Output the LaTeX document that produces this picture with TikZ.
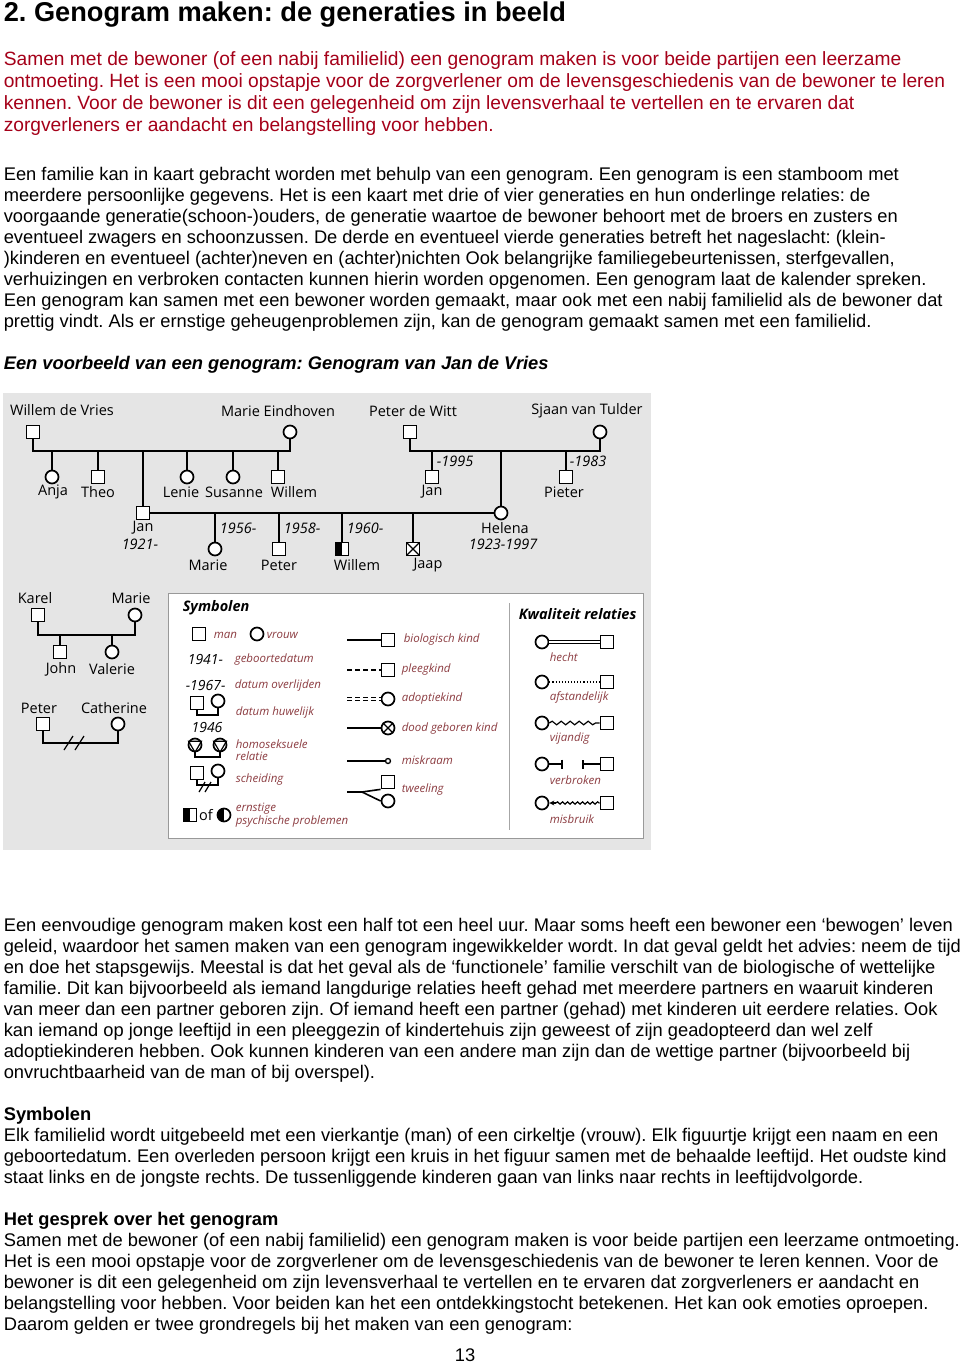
\documentclass[tikz,border=0pt]{standalone}
\usepackage{fontspec}
\setmainfont{Liberation Sans}
\newfontfamily\genofont{Open Sans}
\usepackage{xcolor}
\usetikzlibrary{arrows.meta, positioning, decorations.pathmorphing}
\definecolor{introred}{RGB}{165,0,25}
\definecolor{panelgrey}{RGB}{229,229,229}
\definecolor{legendred}{RGB}{140,60,65}
\def\bodysize{\fontsize{18.3}{21}\selectfont}

\begin{document}
\frenchspacing
\begin{tikzpicture}[x=1pt,y=-1pt,line width=1.6pt]
    \tikzstyle{txt}=[anchor=base west, inner sep=0pt, font=\bodysize]
    \tikzstyle{para}=[anchor=north west, inner sep=0pt, align=left, font=\bodysize]
    \tikzstyle{man}=[rectangle, draw, fill=white, minimum size=13pt, inner sep=0pt, line width=1.7pt]
    \tikzstyle{woman}=[circle, draw, fill=white, minimum size=13pt, inner sep=0pt, line width=1.7pt]
    \tikzstyle{lbl}=[inner sep=0pt, font=\genofont\fontsize{14.5}{16}\selectfont]
    \tikzstyle{yr}=[inner sep=0pt, font=\genofont\itshape\fontsize{14.5}{16}\selectfont]
    \tikzstyle{leg}=[anchor=west, inner sep=0pt, align=left, text=legendred, font=\genofont\itshape\fontsize{11.5}{12.5}\selectfont]
    \tikzstyle{legyr}=[anchor=west, inner sep=0pt, font=\genofont\itshape\fontsize{14}{15}\selectfont]
    \tikzstyle{legtitle}=[anchor=west, inner sep=0pt, font=\genofont\bfseries\itshape\fontsize{14.5}{16}\selectfont]
    \tikzstyle{half}=[path picture={\fill[black] (path picture bounding box.south west) rectangle (path picture bounding box.north);}]
    \tikzstyle{crossed}=[path picture={\draw[line width=1.2pt] (path picture bounding box.south west) -- (path picture bounding box.north east) (path picture bounding box.north west) -- (path picture bounding box.south east);}]

    \path[use as bounding box, fill=white] (0,0) rectangle (960,1364);

    % text of the page
    \node[txt, font=\bfseries\fontsize{27.2}{30}\selectfont] (title) at (3,21.5) {2. Genogram maken: de generaties in beeld};
    \node[para, text=introred, font=\fontsize{19.2}{22}\selectfont] (intro) at (3,49.6) {\strut Samen met de bewoner (of een nabij familielid) een genogram maken is voor beide partijen een leerzame\\
        ontmoeting. Het is een mooi opstapje voor de zorgverlener om de levensgeschiedenis van de bewoner te leren\\
        kennen. Voor de bewoner is dit een gelegenheid om zijn levensverhaal te vertellen en te ervaren dat\\
        zorgverleners er aandacht en belangstelling voor hebben.};
    \node[para] (familie) at (3,165.3) {\strut Een familie kan in kaart gebracht worden met behulp van een genogram. Een genogram is een stamboom met\\
        meerdere persoonlijke gegevens. Het is een kaart met drie of vier generaties en hun onderlinge relaties: de\\
        voorgaande generatie(schoon-)ouders, de generatie waartoe de bewoner behoort met de broers en zusters en\\
        eventueel zwagers en schoonzussen. De derde en eventueel vierde generaties betreft het nageslacht: (klein-\\
        )kinderen en eventueel (achter)neven en (achter)nichten Ook belangrijke familiegebeurtenissen, sterfgevallen,\\
        verhuizingen en verbroken contacten kunnen hierin worden opgenomen. Een genogram laat de kalender spreken.\\
        Een genogram kan samen met een bewoner worden gemaakt, maar ook met een nabij familielid als de bewoner dat\\
        prettig vindt. Als er ernstige geheugenproblemen zijn, kan de genogram gemaakt samen met een familielid.};
    \node[txt, font=\bfseries\itshape\bodysize] (voorbeeld) at (3,369) {Een voorbeeld van een genogram: Genogram van Jan de Vries};
    \node[para] (eenvoudig) at (3,916.3) {\strut Een eenvoudige genogram maken kost een half tot een heel uur. Maar soms heeft een bewoner een ‘bewogen’ leven\\
        geleid, waardoor het samen maken van een genogram ingewikkelder wordt. In dat geval geldt het advies: neem de tijd\\
        en doe het stapsgewijs. Meestal is dat het geval als de ‘functionele’ familie verschilt van de biologische of wettelijke\\
        familie. Dit kan bijvoorbeeld als iemand langdurige relaties heeft gehad met meerdere partners en waaruit kinderen\\
        van meer dan een partner geboren zijn. Of iemand heeft een partner (gehad) met kinderen uit eerdere relaties. Ook\\
        kan iemand op jonge leeftijd in een pleeggezin of kindertehuis zijn geweest of zijn geadopteerd dan wel zelf\\
        adoptiekinderen hebben. Ook kunnen kinderen van een andere man zijn dan de wettige partner (bijvoorbeeld bij\\
        onvruchtbaarheid van de man of bij overspel).};
    \node[para] (symbolen) at (3,1105.3) {\strut\textbf{Symbolen}\\
        Elk familielid wordt uitgebeeld met een vierkantje (man) of een cirkeltje (vrouw). Elk figuurtje krijgt een naam en een\\
        geboortedatum. Een overleden persoon krijgt een kruis in het figuur samen met de behaalde leeftijd. Het oudste kind\\
        staat links en de jongste rechts. De tussenliggende kinderen gaan van links naar rechts in leeftijdvolgorde.};
    \node[para] (gesprek) at (3,1210.3) {\strut\textbf{Het gesprek over het genogram}\\
        Samen met de bewoner (of een nabij familielid) een genogram maken is voor beide partijen een leerzame ontmoeting.\\
        Het is een mooi opstapje voor de zorgverlener om de levensgeschiedenis van de bewoner te leren kennen. Voor de\\
        bewoner is dit een gelegenheid om zijn levensverhaal te vertellen en te ervaren dat zorgverleners er aandacht en\\
        belangstelling voor hebben. Voor beiden kan het een ontdekkingstocht betekenen. Het kan ook emoties oproepen.\\
        Daarom gelden er twee grondregels bij het maken van een genogram:};
    \node[txt, anchor=base] (pagina) at (465,1361) {13};

    % genogram panel
    \fill[panelgrey] (3,393) rectangle (651,850);
    \draw[black!40, line width=0.8pt, fill=white] (168,593) rectangle (643,838);
    \draw[black!35, line width=0.6pt] (509,603) -- (509,830);

    % grandparents
    \node[man] (WdV) at (33,432) {};
    \node[lbl] (WdV-l) at (62,410) {Willem de Vries};
    \node[woman] (MEi) at (290,432) {};
    \node[lbl] (MEi-l) at (278,411) {Marie Eindhoven};
    \node[man] (PdW) at (410,432) {};
    \node[lbl] (PdW-l) at (413,411) {Peter de Witt};
    \node[woman] (SvT) at (600,432) {};
    \node[lbl] (SvT-l) at (587,411) {Sjaan van Tulder};
    \coordinate (sib1) at (160,451);
    \coordinate (sib2) at (505,451);
    \draw (WdV) |- (sib1) -| (MEi);
    \draw (PdW) |- (sib2) -| (SvT);

    \foreach \nm/\x/\sh/\lx in {Anja/52/woman/53, Theo/98/man/98, Lenie/187/woman/181, Susanne/233/woman/234, Willem/278/man/294}{
        \node[\sh] (\nm) at (\x,477) {};
        \node[lbl] (\nm-l) at (\lx,492) {\nm};
        \draw (\nm) -- (\nm |- sib1);
    }
    \foreach \nm/\x/\lx/\yx/\yt in {JanW/432/432/436/-1995, Pieter/566/564/569/-1983}{
        \node[man] (\nm) at (\x,477) {};
        \node[yr, anchor=west] (\nm-d) at (\yx,461) {\yt};
        \draw (\nm) -- (\nm |- sib2);
    }
    \node[lbl] (JanW-l) at (432,492) {Jan};
    \node[lbl] (Pieter-l) at (564,492) {Pieter};

    % Jan and Helena
    \node[man] (JanV) at (143,513) {};
    \node[lbl] (JanV-l) at (143,528) {Jan};
    \node[yr] (JanV-d) at (140,544) {1921-};
    \node[woman] (Helena) at (501,513) {};
    \node[lbl] (Helena-l) at (505,528) {Helena};
    \node[yr] (Helena-d) at (503,544) {1923-1997};
    \draw (JanV) -- (JanV |- sib1);
    \draw (Helena) -- (Helena |- sib2);
    \draw (JanV) -- (Helena);

    \node[woman] (MarieJ) at (215,549) {};
    \node[man] (PeterJ) at (279,549) {};
    \node[man, half] (WillemJ) at (342,549) {};
    \node[man, crossed] (Jaap) at (413,549) {};
    \foreach \nm/\lx/\txt in {MarieJ/208/Marie, PeterJ/279/Peter, WillemJ/357/Willem, Jaap/428/Jaap}{
        \node[lbl] (\nm-l) at (\lx,565) {\txt};
        \draw (\nm) -- (\nm |- JanV);
    }
    \node[yr, anchor=west] (MarieJ-d) at (219,528) {1956-};
    \node[yr, anchor=west] (PeterJ-d) at (283,528) {1958-};
    \node[yr, anchor=west] (WillemJ-d) at (346,528) {1960-};

    % Karel and Marie, Peter and Catherine
    \node[man] (Karel) at (38,615) {};
    \node[lbl] (Karel-l) at (35,598) {Karel};
    \node[woman] (MarieK) at (135,615) {};
    \node[lbl] (MarieK-l) at (131,598) {Marie};
    \coordinate (sib3) at (85,635);
    \draw (Karel) |- (sib3) -| (MarieK);
    \node[man] (John) at (60,652) {};
    \node[lbl] (John-l) at (61,669) {John};
    \node[woman] (Valerie) at (112,652) {};
    \node[lbl] (Valerie-l) at (112,669) {Valerie};
    \draw (John) -- (John |- sib3);
    \draw (Valerie) -- (Valerie |- sib3);

    \node[man] (PeterC) at (43,724) {};
    \node[lbl] (PeterC-l) at (39,708) {Peter};
    \node[woman] (Cath) at (118,724) {};
    \node[lbl] (Cath-l) at (114,708) {Catherine};
    \coordinate (div1) at (80,743);
    \draw (PeterC) |- (div1) -| (Cath);
    \draw[line width=1.2pt] (div1) ++(-16,7) -- ++(9,-14);
    \draw[line width=1.2pt] (div1) ++(-5,7) -- ++(9,-14);

    % legend: Symbolen
    \node[legtitle] (symb) at (182,608) {Symbolen};
    \node[man] (lm) at (199,634) {};
    \node[leg] (lm-t) at (213,635) {man};
    \node[woman] (lw) at (257,634) {};
    \node[leg] (lw-t) at (266,635) {vrouw};
    \node[legyr] (lb) at (187,659) {1941-};
    \node[leg] (lb-t) at (234,660) {geboortedatum};
    \node[legyr] (ld) at (185,685) {-1967-};
    \node[leg] (ld-t) at (234,686) {datum overlijden};
    \node[man] (hm) at (197,703) {};
    \node[woman] (hw) at (218,701) {};
    \coordinate (hu) at (207,715);
    \draw (hm) |- (hu) -| (hw);
    \node[legyr, anchor=center] (hy) at (207,727) {1946};
    \node[leg] (hm-t) at (235,713) {datum huwelijk};
    \node[woman] (g1) at (195,745) {};
    \node[woman] (g2) at (220,745) {};
    \draw[line width=1.2pt] (g1.150) -- (g1.30) -- (g1.270) -- cycle;
    \draw[line width=1.2pt] (g2.150) -- (g2.30) -- (g2.270) -- cycle;
    \coordinate (gu) at (207,757);
    \draw (g1) |- (gu) -| (g2);
    \node[leg] (g-t) at (235,750) {homoseksuele\\relatie};
    \node[man] (sm) at (197,773) {};
    \node[woman] (sw) at (218,771) {};
    \coordinate (su) at (207,785);
    \draw (sm) |- (su) -| (sw);
    \draw[line width=1.2pt] (su) ++(-8,7) -- ++(6,-10);
    \draw[line width=1.2pt] (su) ++(-2,7) -- ++(6,-10);
    \node[leg] (s-t) at (235,780) {scheiding};
    \node[man, half] (pm) at (190,815) {};
    \node[lbl] (of) at (206,815) {of};
    \node[woman, half] (pw) at (224,815) {};
    \node[leg] (p-t) at (235,815) {ernstige\\psychische problemen};

    % legend: children
    \coordinate (bio-s) at (347,640);
    \node[man] (bio) at (388,640) {};
    \draw (bio-s) -- (bio);
    \node[leg] (bio-t) at (403,640) {biologisch kind};
    \coordinate (pl-s) at (347,670);
    \node[man] (pl) at (388,670) {};
    \draw[dash pattern=on 5pt off 3pt] (pl-s) -- (pl);
    \node[leg] (pl-t) at (401,670) {pleegkind};
    \coordinate (ad-s) at (347,699);
    \node[woman] (ad) at (388,699) {};
    \draw[double, double distance=2.2pt, line width=1.1pt, dash pattern=on 5pt off 3pt] (ad-s) -- (ad);
    \node[leg] (ad-t) at (401,699) {adoptiekind};
    \coordinate (dg-s) at (347,728);
    \node[woman] (dg) at (388,728) {};
    \draw (dg-s) -- (dg);
    \draw[line width=1.3pt] (dg.45) -- (dg.225) (dg.135) -- (dg.315);
    \node[leg] (dg-t) at (401,729) {dood geboren kind};
    \coordinate (mk-s) at (347,761);
    \node[circle, draw, fill=white, minimum size=5pt, inner sep=0pt, line width=1.3pt] (mk) at (388,761) {};
    \draw (mk-s) -- (mk);
    \node[leg] (mk-t) at (401,760) {miskraam};
    \coordinate (tw-s) at (347,792);
    \coordinate (tw-f) at (362,792);
    \node[man] (twm) at (388,782) {};
    \node[woman] (tww) at (388,801) {};
    \draw (tw-s) -- (tw-f) -- (twm.south west);
    \draw (tw-f) -- (tww.west);
    \node[leg] (tw-t) at (401,790) {tweeling};

    % legend: Kwaliteit relaties
    \node[legtitle] (kwal) at (518,614) {Kwaliteit relaties};
    \node[woman] (hc) at (542,642) {};
    \node[man] (hs) at (607,642) {};
    \draw[double, double distance=2pt, line width=1pt] (hc) -- (hs);
    \node[leg] (hc-t) at (549,657) {hecht};
    \node[woman] (ac) at (542,682) {};
    \node[man] (as) at (607,682) {};
    \draw[dotted, line width=1.1pt] (ac) -- (as);
    \node[leg] (ac-t) at (549,697) {afstandelijk};
    \node[woman] (vc) at (542,723) {};
    \node[man] (vs) at (607,723) {};
    \draw[line width=1.2pt, decorate, decoration={snake, amplitude=1.8pt, segment length=9pt}] (vc) -- (vs);
    \node[leg] (vc-t) at (549,739) {vijandig};
    \node[woman] (bc) at (542,764) {};
    \node[man] (bs) at (607,764) {};
    \coordinate (vb1) at (563,764);
    \coordinate (vb2) at (582,764);
    \draw[-{Bar[width=9pt]}] (bc) -- (vb1);
    \draw[{Bar[width=9pt]}-] (vb2) -- (bs);
    \node[leg] (bc-t) at (549,780) {verbroken};
    \node[woman] (mc) at (542,803) {};
    \node[man] (ms) at (607,803) {};
    \coordinate (mb1) at (556,803);
    \draw[line width=1.2pt, -{Stealth[length=5pt, width=5pt]}] (mb1) -- (mc);
    \draw[line width=1.2pt, decorate, decoration={snake, amplitude=1.2pt, segment length=5pt}] (mb1) -- (ms);
    \node[leg] (mc-t) at (549,819) {misbruik};
\end{tikzpicture}
\end{document}
